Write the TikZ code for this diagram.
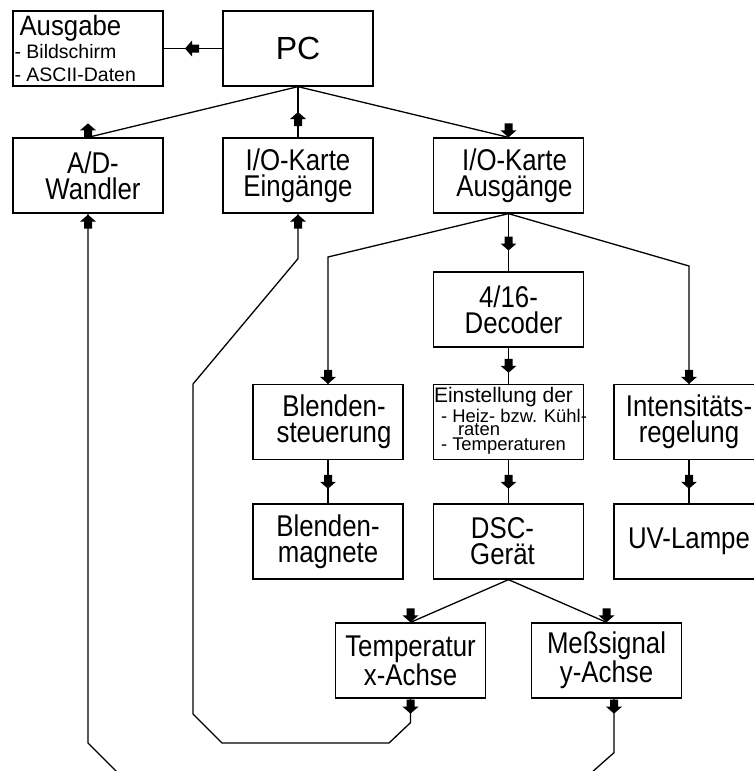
\documentclass[tikz,border=0pt]{standalone}
\usepackage{fontspec}
\setmainfont{Liberation Sans}
\newfontfamily\tallfont[FakeStretch=0.86]{Liberation Sans}
\newfontfamily\midfont[FakeStretch=0.92]{Liberation Sans}
\usetikzlibrary{calc}
\begin{document}
\begin{tikzpicture}[x=1pt,y=-1pt,
  box/.style={draw, line width=1.3pt, minimum width=150pt, minimum height=75pt,
    inner sep=0pt, align=center, font=\tallfont\fontsize{30}{26}\selectfont},
  note/.style={inner sep=0pt, align=left},
  wire/.style={line width=1.3pt},
  % block arrow heads, tip at the origin
  arrdown/.pic={\fill (0,0) -- (-8,-7) -- (-4,-7) -- (-4,-14) -- (4,-14) -- (4,-7) -- (8,-7) -- cycle;},
  arrup/.pic={\fill (0,0) -- (-8,7) -- (-4,7) -- (-4,14) -- (4,14) -- (4,7) -- (8,7) -- cycle;},
  arrleft/.pic={\fill (0,0) -- (7,-8) -- (7,-4) -- (14,-4) -- (14,4) -- (7,4) -- (7,8) -- cycle;}
]
\useasboundingbox (0,0) rectangle (754,771);
\clip (0,0) rectangle (754,771);

% boxes
\node[box] (ausg) at (88,48.5) {};
\node[note, anchor=north west, font=\fontsize{19.5}{23}\selectfont] (ausgtxt) at ($(ausg.north west)+(2,5)$)
  {\hspace*{5pt}{\midfont\fontsize{28}{23}\selectfont Ausgabe}\\- Bildschirm\\- ASCII-Daten};
\node[box, font=\fontsize{32}{26}\selectfont] (pc) at (298,48.5) {PC};
\node[box] (ad) at (88,175.5) {\hspace*{10pt}A/D-\\\hspace*{10pt}Wandler};
\node[box] (ein) at (298,175.5) {I/O-Karte\\Eingänge};
\node[box] (aus) at (508.5,175.5) {\hspace*{12pt}I/O-Karte\\\hspace*{12pt}Ausgänge};
\node[box] (dec) at (508.5,309.5) {4/16-\\\hspace*{10pt}Decoder};
\node[box] (bst) at (328,422) {\hspace*{12pt}Blenden-\\\hspace*{12pt}steuerung};
\node[box] (einst) at (508.5,422) {};
\node[note, anchor=north west, font=\fontsize{18.4}{20}\selectfont] (einsttxt) at ($(einst.north west)+(1,3)$)
  {{\fontsize{21}{20}\selectfont Einstellung der}\\
   \hspace*{7pt}- Heiz- bzw. Kühl-\\[-7pt]
   \hspace*{24pt}raten\\[-5pt]
   \hspace*{7pt}- Temperaturen};
\node[box] (int) at (689,422) {Intensitäts-\\regelung};
\node[box] (bmag) at (328,541.5) {Blenden-\\magnete};
\node[box] (dsc) at (508.5,541.5) {\hspace*{-12pt}DSC-\\\hspace*{-12pt}Gerät};
\node[box] (uv) at (689,541.5) {UV-Lampe};
\node[box] (temp) at (410.5,660.5) {Temperatur\\x-Achse};
\node[box] (mess) at (606.5,660.5) {Meßsignal\\y-Achse};

% bend points
\coordinate (kL) at (328,257);
\coordinate (kR) at (689,266);
\coordinate (r1) at ($(ein.south)+(0,45)$);
\coordinate (r2) at (193,384);
\coordinate (r3) at (193,714);
\coordinate (r4) at (222,743);
\coordinate (r5) at (389,743);
\coordinate (r6) at ($(temp.south)+(0,24)$);
\coordinate (l1) at (88,743);
\coordinate (l2) at (127,782);
\coordinate (m1) at ($(mess.south)+(7.5,54)$);
\coordinate (m2) at (582,781);

% connectors
\draw[wire] (pc.west) -- (ausg.east);
\draw[wire] (pc.south) -- (ad.north);
\draw[wire] (pc.south) -- (ein.north);
\draw[wire] (pc.south) -- (aus.north);
\draw[wire] (aus.south) -- (dec.north);
\draw[wire] (aus.south) -- (kL) -- (bst.north);
\draw[wire] (aus.south) -- (kR) -- (int.north);
\draw[wire] (dec.south) -- (einst.north);
\draw[wire] (einst.south) -- (dsc.north);
\draw[wire] (bst.south) -- (bmag.north);
\draw[wire] (int.south) -- (uv.north);
\draw[wire] (dsc.south) -- (temp.north);
\draw[wire] (dsc.south) -- (mess.north);
\draw[wire] (ein.south) -- (r1) -- (r2) -- (r3) -- (r4) -- (r5) -- (r6) -- (temp.south);
\draw[wire] (ad.south) -- (l1) -- (l2);
\draw[wire] ($(mess.south)+(7.5,0)$) -- (m1) -- (m2);

% arrow heads
\pic at ($(ausg.east)!0.5!(pc.west)+(-8,0)$) {arrleft};
\pic at ($(ad.north)+(0,-14)$) {arrup};
\pic at ($(pc.south)!0.5!(ein.north)$) {arrup};
\pic at (aus.north) {arrdown};
\pic at ($(aus.south)!0.5!(dec.north)+(0,8)$) {arrdown};
\pic at ($(dec.south)!0.5!(einst.north)+(0,7)$) {arrdown};
\pic at (bst.north) {arrdown};
\pic at (int.north) {arrdown};
\pic at ($(bst.south)!0.5!(bmag.north)+(0,7)$) {arrdown};
\pic at ($(einst.south)!0.5!(dsc.north)+(0,7)$) {arrdown};
\pic at ($(int.south)!0.5!(uv.north)+(0,7)$) {arrdown};
\pic at (temp.north) {arrdown};
\pic at (mess.north) {arrdown};
\pic at ($(temp.south)+(0,15)$) {arrdown};
\pic at ($(mess.south)+(7.5,15)$) {arrdown};
\pic at ($(ein.south)+(0,1)$) {arrup};
\pic at ($(ad.south)+(0,1)$) {arrup};
\end{tikzpicture}
\end{document}
